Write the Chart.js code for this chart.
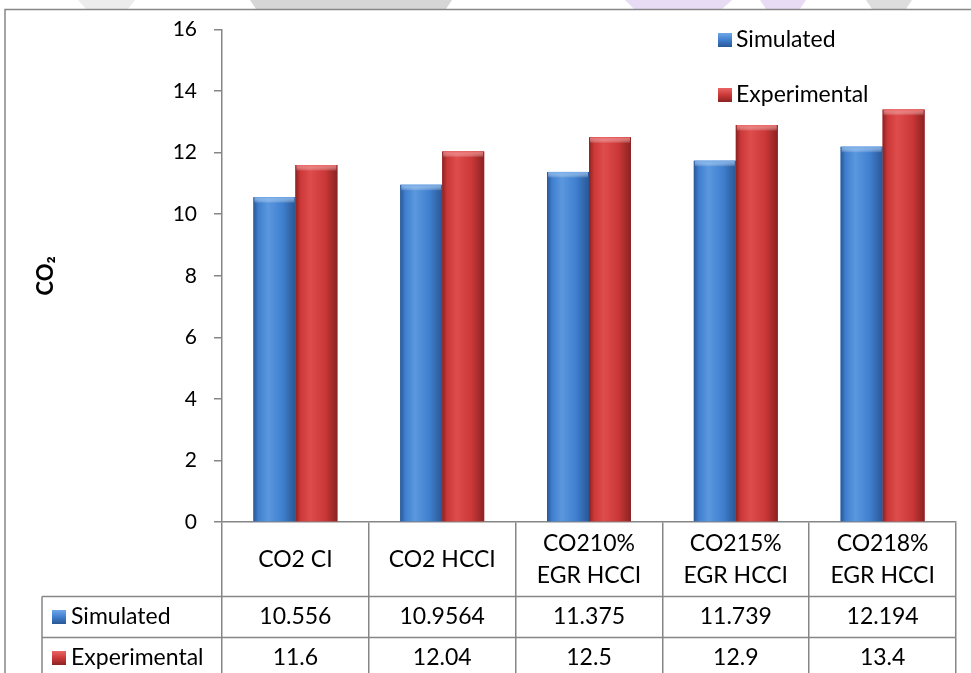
<!DOCTYPE html>
<html>
<head>
<meta charset="utf-8">
<script src="https://cdn.jsdelivr.net/npm/chart.js@4/dist/chart.umd.min.js"></script>
<style>
  html, body { margin: 0; padding: 0; background: #ffffff; }
  canvas { display: block; }
</style>
</head>
<body>
<canvas id="c" width="971" height="673"></canvas>
<script>
// ---- data ----
const categories = [["CO2 CI"], ["CO2 HCCI"], ["CO210%", "EGR HCCI"], ["CO215%", "EGR HCCI"], ["CO218%", "EGR HCCI"]];
const seriesNames = ["Simulated", "Experimental"];
const simulated = [10.556, 10.9564, 11.375, 11.739, 12.194];
const experimental = [11.6, 12.04, 12.5, 12.9, 13.4];
const simulatedText = ["10.556", "10.9564", "11.375", "11.739", "12.194"];
const experimentalText = ["11.6", "12.04", "12.5", "12.9", "13.4"];
const yMin = 0, yMax = 16, yStep = 2;
const yTitle = "CO\u2082";

// ---- styles ----
const FONT = 'Lato, "Liberation Sans", sans-serif';
const GRID = '#868686';
const palettes = [
  { edge: '#2a5795', mid: '#3f7fce', light: '#5a97de', top: '#6fa8e8' },
  { edge: '#8a2222', mid: '#cc3838', light: '#de4c4c', top: '#ea6565' }
];

function barGradient(ctx, x0, x1, p) {
  const g = ctx.createLinearGradient(x0, 0, x1, 0);
  g.addColorStop(0, p.edge);
  g.addColorStop(0.12, p.mid);
  g.addColorStop(0.35, p.light);
  g.addColorStop(0.7, p.mid);
  g.addColorStop(1, p.edge);
  return g;
}

const customPlugin = {
  id: 'custom',
  beforeDraw(chart) {
    const ctx = chart.ctx;
    ctx.save();
    ctx.fillStyle = '#ffffff';
    ctx.fillRect(0, 0, chart.width, chart.height);
    // faint watermark remnants at the top edge
    ctx.fillStyle = '#ececec';
    ctx.beginPath(); ctx.moveTo(78, 0); ctx.lineTo(135, 0); ctx.lineTo(128, 9); ctx.lineTo(86, 9); ctx.fill();
    ctx.fillStyle = '#d6d6d6';
    ctx.beginPath(); ctx.moveTo(250, 0); ctx.lineTo(452, 0); ctx.lineTo(446, 9); ctx.lineTo(256, 9); ctx.fill();
    ctx.fillStyle = '#e8dbf4';
    ctx.beginPath(); ctx.moveTo(625, 0); ctx.lineTo(732, 0); ctx.lineTo(722, 9); ctx.lineTo(634, 9); ctx.fill();
    ctx.beginPath(); ctx.moveTo(760, 0); ctx.lineTo(806, 0); ctx.lineTo(800, 9); ctx.lineTo(766, 9); ctx.fill();
    ctx.fillStyle = '#dddddd';
    ctx.beginPath(); ctx.moveTo(866, 0); ctx.lineTo(912, 0); ctx.lineTo(906, 9); ctx.lineTo(872, 9); ctx.fill();
    // outer frame
    ctx.strokeStyle = GRID;
    ctx.lineWidth = 1.5;
    ctx.strokeRect(5, 9.5, 1000, 700);
    ctx.restore();
  },
  afterDatasetsDraw(chart) {
    const ctx = chart.ctx;
    ctx.save();
    chart.data.datasets.forEach((ds, di) => {
      const meta = chart.getDatasetMeta(di);
      const p = palettes[di];
      meta.data.forEach((bar) => {
        const { x, y, base, width } = bar.getProps(['x', 'y', 'base', 'width'], true);
        const x0 = x - width / 2, x1 = x + width / 2;
        ctx.fillStyle = barGradient(ctx, x0, x1, p);
        ctx.fillRect(x0, y, width, base - y);
        // bevelled top
        const tg = ctx.createLinearGradient(0, y, 0, y + 6);
        tg.addColorStop(0, p.top);
        tg.addColorStop(1, 'rgba(255,255,255,0)');
        ctx.fillStyle = tg;
        ctx.fillRect(x0 + 1, y, width - 2, 6);
      });
    });
    ctx.restore();
  },
  afterDraw(chart) {
    const ctx = chart.ctx;
    const xs = chart.scales.x;
    const ys = chart.scales.y;
    const n = chart.data.labels.length;
    const yAxis = ys.bottom;
    const row1 = yAxis + 74.5;
    const row2 = row1 + 41;
    const row3 = row2 + 41;
    const tableLeft = 42;
    ctx.save();
    ctx.strokeStyle = GRID;
    ctx.lineWidth = 1.5;
    ctx.beginPath();
    ctx.moveTo(tableLeft, row1); ctx.lineTo(xs.right, row1);
    ctx.moveTo(tableLeft, row2); ctx.lineTo(xs.right, row2);
    ctx.moveTo(tableLeft, row3); ctx.lineTo(xs.right, row3);
    ctx.moveTo(tableLeft, row1); ctx.lineTo(tableLeft, chart.height + 5);
    ctx.stroke();

    ctx.fillStyle = '#000000';
    ctx.font = '23px ' + FONT;
    ctx.textAlign = 'center';
    ctx.textBaseline = 'middle';
    const rowMid1 = (yAxis + row1) / 2;
    const rowMid2 = (row1 + row2) / 2;
    const rowMid3 = (row2 + row3) / 2;
    for (let i = 0; i < n; i++) {
      const cx = xs.getPixelForValue(i);
      const lines = categories[i];
      const lh = 32;
      lines.forEach((ln, k) => {
        ctx.fillText(ln, cx, rowMid1 + (k - (lines.length - 1) / 2) * lh);
      });
      ctx.fillText(simulatedText[i], cx, rowMid2);
      ctx.fillText(experimentalText[i], cx, rowMid3);
    }
    // row headers
    const drawKey = (x, cy, p) => {
      const s = 14;
      const g = ctx.createLinearGradient(0, cy - s / 2, 0, cy + s / 2);
      g.addColorStop(0, p.top);
      g.addColorStop(0.5, p.mid);
      g.addColorStop(1, p.edge);
      ctx.fillStyle = g;
      ctx.fillRect(x, cy - s / 2, s, s);
    };
    ctx.textAlign = 'left';
    [rowMid2, rowMid3].forEach((cy, di) => {
      drawKey(52, cy, palettes[di]);
      ctx.fillStyle = '#000000';
      ctx.fillText(chart.data.datasets[di].label, 71, cy);
    });
    // legend (top right)
    [40, 95].forEach((cy, di) => {
      drawKey(718, cy, palettes[di]);
      ctx.fillStyle = '#000000';
      ctx.fillText(chart.data.datasets[di].label, 736, cy);
    });
    ctx.restore();
  }
};

new Chart(document.getElementById('c'), {
  type: 'bar',
  data: {
    labels: categories,
    datasets: [
      { label: seriesNames[0], data: simulated, backgroundColor: palettes[0].mid, borderWidth: 0 },
      { label: seriesNames[1], data: experimental, backgroundColor: palettes[1].mid, borderWidth: 0 }
    ]
  },
  options: {
    responsive: false,
    animation: false,
    events: [],
    layout: { padding: { top: 24, right: 15, bottom: 0, left: 0 } },
    datasets: { bar: { categoryPercentage: 0.572, barPercentage: 1.0 } },
    plugins: { legend: { display: false }, tooltip: { enabled: false } },
    scales: {
      x: {
        offset: true,
        grid: { display: true, drawOnChartArea: false, drawTicks: true, tickLength: 160, color: GRID, lineWidth: 1.5, offset: true },
        border: { display: true, color: GRID, width: 1.5 },
        ticks: { display: false },
        afterFit(scale) { scale.height = 151; }
      },
      y: {
        min: yMin, max: yMax,
        ticks: { stepSize: yStep, color: '#000000', font: { family: FONT, size: 21 }, padding: 17 },
        grid: { display: true, drawOnChartArea: false, drawTicks: true, tickLength: 8, color: GRID, lineWidth: 1.5 },
        border: { display: true, color: GRID, width: 1.5 },
        title: { display: true, text: yTitle, color: '#000000', font: { family: FONT, size: 22, weight: 'bold' }, padding: { top: 33, bottom: 0 } },
        afterFit(scale) { scale.width = 222; }
      }
    }
  },
  plugins: [customPlugin]
});
</script>
</body>
</html>
